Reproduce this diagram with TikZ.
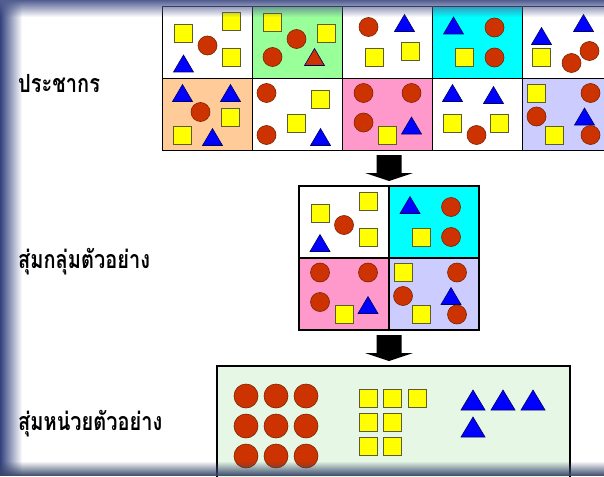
\documentclass[tikz,border=0pt]{standalone}
\usepackage{fontspec}
\newfontfamily\thaifont[Script=Thai]{Loma}
\usetikzlibrary{positioning,calc,fadings}
\definecolor{circred}{HTML}{CC3300}
\definecolor{circline}{HTML}{7A2200}
\definecolor{sqyellow}{HTML}{FFFF00}
\definecolor{sqline}{HTML}{5C5C2E}
\definecolor{triblue}{HTML}{0000FF}
\definecolor{triline}{HTML}{000066}
\definecolor{popgreen}{HTML}{99FF99}
\definecolor{popcyan}{HTML}{00FFFF}
\definecolor{poppeach}{HTML}{FFCC99}
\definecolor{poppink}{HTML}{FF99CC}
\definecolor{poplav}{HTML}{CCCCFF}
\definecolor{unitgreen}{HTML}{E6F7E6}
\definecolor{framebl}{HTML}{33427E}
\definecolor{framebot}{HTML}{39476A}
\tikzset{
  cell/.style={draw=black,line width=1.8pt,minimum width=90pt,minimum height=72pt,inner sep=0pt,outer sep=0pt,anchor=north west},
  circ/.style={fill=circred,draw=circline,line width=0.6pt},
  sq/.style={fill=sqyellow,draw=sqline,line width=0.6pt},
  tri/.style={fill=triblue,draw=triline,line width=0.6pt},
  lbl/.style={font=\thaifont\bfseries\fontsize{20}{24}\selectfont,anchor=base west,inner sep=0pt},
  blockarr/.style={fill=black},
}
% small shapes, local to a cell
\newcommand\shcirc[2]{\draw[circ] (#1,#2) circle[radius=9.5];}
\newcommand\shsq[2]{\draw[sq] (#1-9,#2-9) rectangle ++(18,18);}
\newcommand\shtri[3][triblue]{\draw[tri,fill=#1] (#2-10,#3+8.5) -- ++(10,-17) -- ++(10,17) -- cycle;}
\newcommand\blockarrow[1]{\fill[blockarr] (#1) ++(-12.5,0) -- ++(25,0) -- ++(0,18) -- ++(11.5,0) -- ++(-24,8) -- ++(-24,-8) -- ++(11.5,0) -- cycle;}
\newcommand\tall[1]{\scalebox{1}[1.25]{#1}}
\tikzset{
  cellone/.pic={\shsq{21}{27}\shsq{69}{15}\shcirc{45}{39}\shsq{69}{51}\shtri{21}{57}},
  celltwo/.pic={\shsq{20}{15.5}\shcirc{44}{32.5}\shsq{74}{26.5}\shcirc{20}{50.5}\shtri[circred]{62}{50.5}},
  cellthree/.pic={\shcirc{26}{20.5}\shtri{62}{16.5}\shsq{32}{50.5}\shsq{68}{44.5}},
  cellfour/.pic={\shtri{21}{19}\shcirc{62}{21}\shsq{32}{51}\shcirc{62}{51}},
  cellfive/.pic={\shtri{61}{16.5}\shtri{19}{29.5}\shsq{19}{50.5}\shcirc{67}{44.5}\shcirc{49}{56.5}},
  cellsix/.pic={\shtri{20}{14.5}\shtri{68}{14.5}\shcirc{38}{33.5}\shsq{68}{38.5}\shsq{20}{56.5}\shtri{50}{58.5}},
  cellseven/.pic={\shcirc{14}{14.5}\shsq{68}{20.5}\shsq{44}{44.5}\shcirc{14}{56.5}\shtri{68}{58.5}},
  celleight/.pic={\shcirc{21}{14.5}\shcirc{69}{14.5}\shcirc{21}{44}\shsq{45}{56.5}\shtri{69}{47}},
  cellnine/.pic={\shtri{20}{14.5}\shtri{61}{16.5}\shsq{20}{44.5}\shsq{67}{44.5}\shcirc{44}{56.5}},
  cellten/.pic={\shsq{14}{14.5}\shcirc{68}{14.5}\shcirc{14}{38}\shtri{62}{38}\shsq{32}{56.5}\shcirc{68}{56.5}},
}
\begin{document}
\begin{tikzpicture}[x=1pt,y=-1pt]
\useasboundingbox (0,0) rectangle (604,476);
\fill[white] (0,0) rectangle (604,476);
% population
\foreach \i/\c in {1/white,2/popgreen,3/white,4/popcyan,5/white}
  \node[cell,fill=\c] (pop\i) at ({162.5+90*(\i-1)},6.5) {};
\foreach \i/\c in {6/poppeach,7/white,8/poppink,9/white,10/poplav}
  \node[cell,fill=\c] (pop\i) at ({162.5+90*(\i-6)},78.5) {};
\pic at (pop1.north west) {cellone};
\pic at (pop2.north west) {celltwo};
\pic at (pop3.north west) {cellthree};
\pic at (pop4.north west) {cellfour};
\pic at (pop5.north west) {cellfive};
\pic at (pop6.north west) {cellsix};
\pic at (pop7.north west) {cellseven};
\pic at (pop8.north west) {celleight};
\pic at (pop9.north west) {cellnine};
\pic at (pop10.north west) {cellten};
% cluster sample
\node[cell,fill=white] (grp1) at (299,186) {};
\node[cell,fill=popcyan,right=0pt of grp1.north east,anchor=north west] (grp2) {};
\node[cell,fill=poppink,below=0pt of grp1.south west,anchor=north west] (grp3) {};
\node[cell,fill=poplav,right=0pt of grp3.north east,anchor=north west] (grp4) {};
\pic at (grp1.north west) {cellone};
\pic at (grp2.north west) {cellfour};
\pic at (grp3.north west) {celleight};
\pic at (grp4.north west) {cellten};
% unit sample
\node[draw=black,line width=1.8pt,fill=unitgreen,minimum width=353pt,minimum height=125pt,anchor=north west,inner sep=0pt] (unit) at (216,365) {};
\foreach \x in {246,276,306}
  \foreach \y in {396,426,456}
    \draw[circ] (\x,\y) circle[radius=12];
\foreach \x/\y in {368/398,392/398,417/398,368/422,392/422,368/446,392/446}
  \draw[sq] (\x-9,\y-9) rectangle ++(18,18);
\foreach \x/\y in {473/400,503/400,533/400,473/427}
  \draw[tri] (\x-12,\y+10) -- ++(12,-20) -- ++(12,20) -- cycle;
% arrows
\coordinate (arr1) at ($(grp1.north east)+(0,-31)$);
\coordinate (arr2) at ($(grp3.south east)+(0,5)$);
\blockarrow{arr1}
\blockarrow{arr2}
% labels
\node[lbl] (lpop) at (18,93) {\tall{ประชากร}};
\node[lbl] (lgrp) at (18,268) {\tall{สุ่มกลุ่มตัวอย่าง}};
\node[lbl] (lunit) at (18,430) {\tall{สุ่มหน่วยตัวอย่าง}};
% slide frame
\fill[framebl,path fading=east] (0,0) rectangle (22,476);
\fill[framebl!85!white,path fading=south] (0,0) rectangle (604,17);
\fill[framebot,path fading=north] (0,461) rectangle (604,476);
\end{tikzpicture}
\end{document}
